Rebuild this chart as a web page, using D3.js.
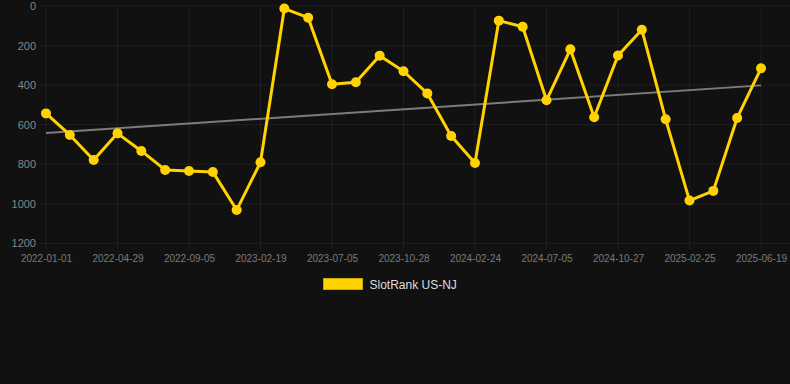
<!DOCTYPE html>
<html><head><meta charset="utf-8">
<script src="https://cdn.jsdelivr.net/npm/d3@7"></script>
<style>
html,body{margin:0;padding:0;background:#111111;}
svg{display:block;}
</style></head>
<body>
<div id="chart"></div>
<script>
const dates = ["2022-01-01","2022-02-09","2022-03-20","2022-04-29","2022-06-11","2022-07-24",
  "2022-09-05","2022-10-31","2022-12-26","2023-02-19","2023-04-05","2023-05-20",
  "2023-07-05","2023-08-12","2023-09-19","2023-10-28","2023-12-07","2024-01-16",
  "2024-02-24","2024-04-08","2024-05-22","2024-07-05","2024-08-12","2024-09-19",
  "2024-10-27","2024-12-06","2025-01-15","2025-02-25","2025-04-04","2025-05-12","2025-06-19"];
const rankValues = [543,652,779,644,733,829,834,839,1032,790,13,59,396,386,251,330,442,657,794,74,105,477,219,563,250,120,573,984,935,566,315];
const yTicks = [0,200,400,600,800,1000,1200];
const xTickEvery = 3;
const seriesName = "SlotRank US-NJ";

const W = 790, H = 384;
const svg = d3.select("#chart").append("svg").attr("width", W).attr("height", H);
svg.append("rect").attr("width", W).attr("height", H).attr("fill", "#111111");

const x = d3.scalePoint().domain(dates).range([46, 761]);
const y = d3.scaleLinear().domain([0, 1200]).range([6, 243.3]);

const gridColor = "rgba(255,255,255,0.055)";
const yAxis = d3.axisLeft(y).tickValues(yTicks).tickFormat(d3.format("d")).tickSize(0).tickPadding(0);
const gy = svg.append("g").attr("transform", "translate(36,0)").call(yAxis);
gy.select(".domain").remove();
gy.selectAll("text").attr("fill", "#858585").attr("font-family", "Liberation Sans, Arial, sans-serif").attr("font-size", "11px");
svg.append("g").selectAll("line").data(yTicks).join("line")
  .attr("x1", 40).attr("x2", W).attr("y1", d => y(d)).attr("y2", d => y(d))
  .attr("stroke", gridColor).attr("stroke-width", 1);

const xTickVals = dates.filter((d, i) => i % xTickEvery === 0);
svg.append("g").selectAll("line").data(xTickVals).join("line")
  .attr("x1", d => x(d)).attr("x2", d => x(d)).attr("y1", 6).attr("y2", 249)
  .attr("stroke", gridColor).attr("stroke-width", 1);
const xAxis = d3.axisBottom(x).tickValues(xTickVals).tickSize(0).tickPadding(0);
const gx = svg.append("g").attr("transform", "translate(0,255)").call(xAxis);
gx.select(".domain").remove();
gx.selectAll("text").attr("fill", "#7a7a7a").attr("font-family", "Liberation Sans, Arial, sans-serif").attr("font-size", "10px").attr("dy", "0.71em");

// trend line (least squares)
const n = rankValues.length;
const mx = d3.mean(rankValues, (d, i) => i);
const my = d3.mean(rankValues);
const slope = d3.sum(rankValues, (d, i) => (i - mx) * (d - my)) / d3.sum(rankValues, (d, i) => (i - mx) * (i - mx));
const intercept = my - slope * mx;
svg.append("line")
  .attr("x1", x(dates[0])).attr("y1", y(intercept))
  .attr("x2", x(dates[n - 1])).attr("y2", y(intercept + slope * (n - 1)))
  .attr("stroke", "#7c7c7c").attr("stroke-width", 2);

const data = dates.map((d, i) => ({ d, v: rankValues[i] }));
svg.append("path").datum(data)
  .attr("fill", "none").attr("stroke", "#FFD200").attr("stroke-width", 3)
  .attr("stroke-linejoin", "round")
  .attr("d", d3.line().x(p => x(p.d)).y(p => y(p.v)));
svg.append("g").selectAll("circle").data(data).join("circle")
  .attr("cx", p => x(p.d)).attr("cy", p => y(p.v)).attr("r", 5)
  .attr("fill", "#FFD200");

// legend
const lg = svg.append("g");
lg.append("rect").attr("x", 323.5).attr("y", 278.5).attr("width", 39).attr("height", 11)
  .attr("fill", "#FFD200").attr("stroke", "#c9a400").attr("stroke-width", 1);
lg.append("text").attr("x", 369.5).attr("y", 288.5).text(seriesName)
  .attr("fill", "#dddddd").attr("font-family", "Liberation Sans, Arial, sans-serif").attr("font-size", "12px");
</script>
</body></html>
